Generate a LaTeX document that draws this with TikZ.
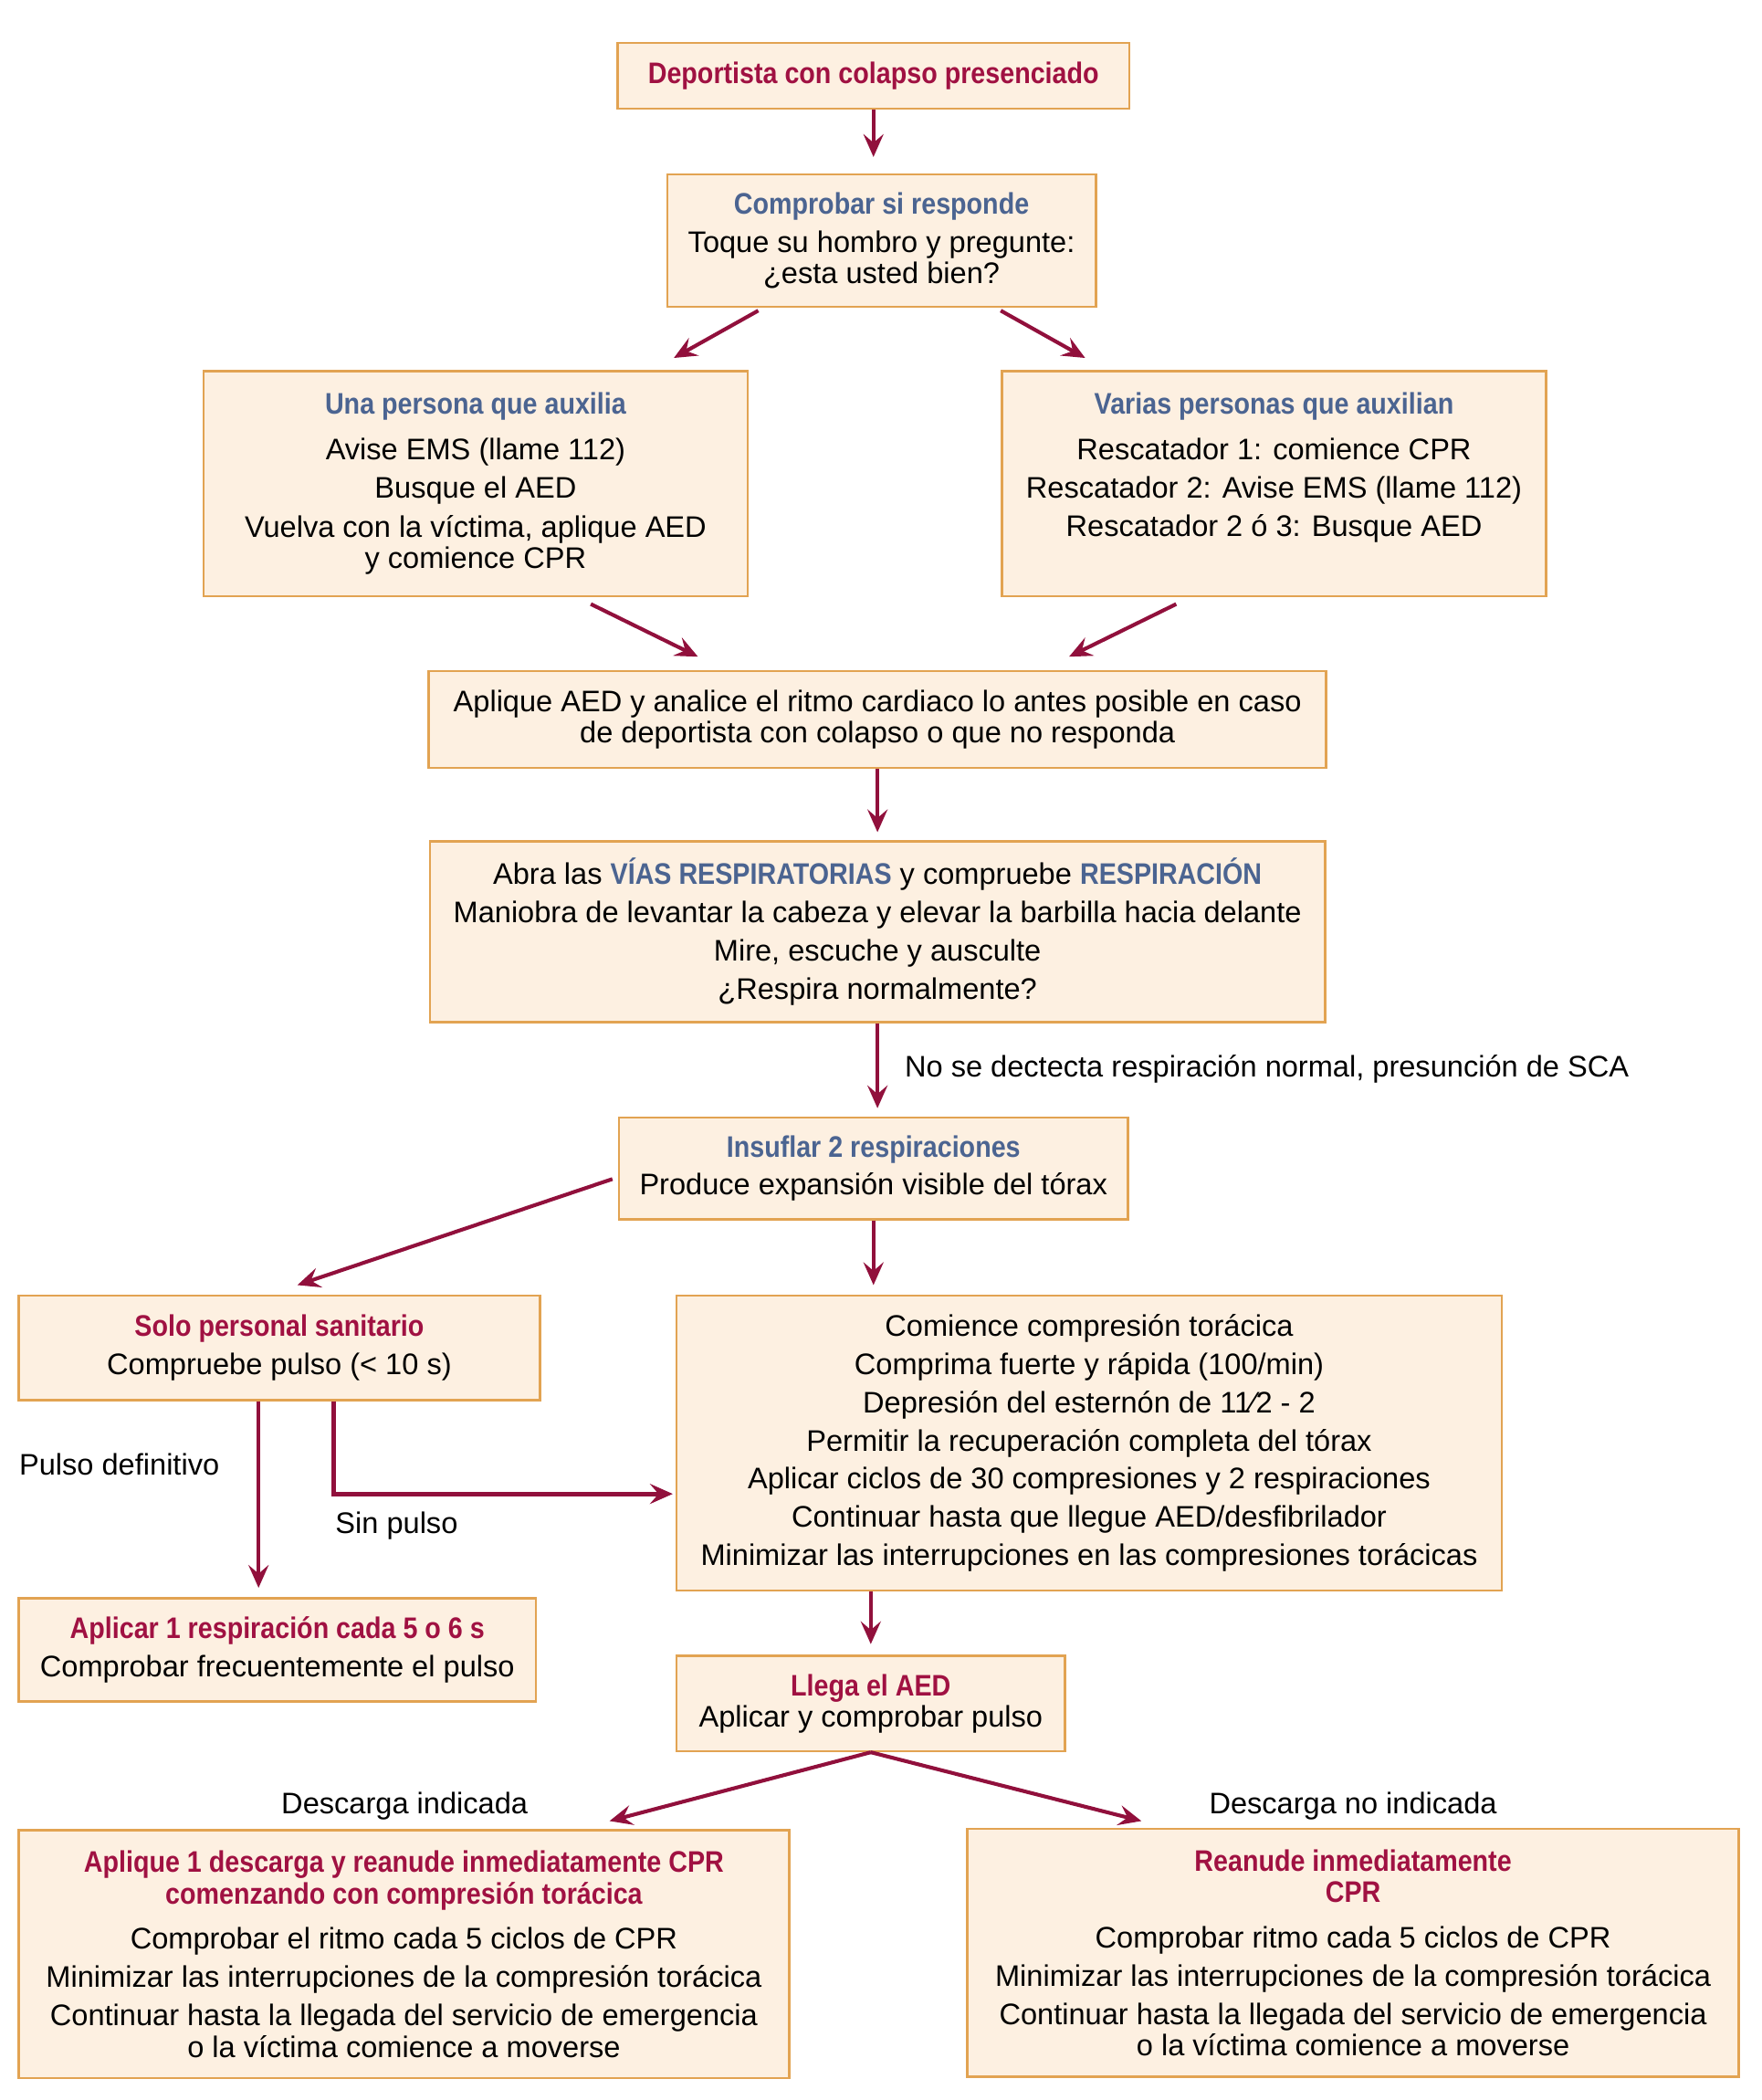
\documentclass[tikz,border=0pt]{standalone}
\usepackage{fontspec}
\setmainfont{Liberation Sans}
\newfontfamily\condbf{Liberation Sans}[FakeStretch=0.88]
\usetikzlibrary{arrows.meta,positioning,calc}
\definecolor{boxfill}{RGB}{253,240,225}
\definecolor{boxline}{RGB}{226,163,82}
\definecolor{arrred}{RGB}{145,16,60}
\definecolor{ttlred}{RGB}{160,17,66}
\definecolor{ttlblue}{RGB}{75,100,145}
\newcommand{\ttl}[1]{{\condbf\bfseries\color{ttlred}#1}}
\newcommand{\hdr}[1]{{\condbf\bfseries\color{ttlblue}#1}}
\tikzset{
    box/.style={draw=boxline, fill=boxfill, line width=0.85pt, align=center, inner sep=0pt},
    arr/.style={draw=arrred, line width=1.4pt, -{Stealth[length=8.5pt,width=7.5pt,inset=3.2pt]}},
    lbl/.style={inner sep=0pt},
}
\begin{document}
\begin{tikzpicture}[x=0.5pt, y=-0.5pt, font=\fontsize{11.1}{11.75}\selectfont]
            \useasboundingbox (0,0) rectangle (1314.6,1567.4);
            % boxes from top to bottom
            \node[box, minimum width=191pt, minimum height=24.5pt] (b1) at (652,56.5)
                {\ttl{Deportista con colapso presenciado}};
            \node[box, minimum width=160pt, minimum height=49.5pt] (b2) at (658,179.5)
                {\hdr{Comprobar si responde}\\[2.5pt] Toque su hombro y pregunte:\\ ¿esta usted bien?};
            \node[box, minimum width=203pt, minimum height=84pt] (b3l) at (355,361)
                {\hdr{Una persona que auxilia}\\[5.25pt] Avise EMS (llame 112)\\[2.5pt] Busque el AED\\[3pt]
                 Vuelva con la víctima, aplique AED\\ y comience CPR};
            \node[box, minimum width=203pt, minimum height=84pt] (b3r) at (951,361)
                {\hdr{Varias personas que auxilian}\\[5.25pt] Rescatador 1: comience CPR\\[2.5pt]
                 Rescatador 2: Avise EMS (llame 112)\\[2.5pt] Rescatador 2 ó 3: Busque AED\\[2.5pt] \mbox{}};
            \node[box, minimum width=335pt, minimum height=36pt] (b4) at (655,537)
                {Aplique AED y analice el ritmo cardiaco lo antes posible en caso\\ de deportista con colapso o que no responda};
            \node[box, minimum width=334pt, minimum height=67.5pt] (b5) at (655,695.5)
                {Abra las \hdr{VÍAS RESPIRATORIAS} y compruebe \hdr{RESPIRACIÓN}\\[2.5pt]
                 Maniobra de levantar la cabeza y elevar la barbilla hacia delante\\[2.5pt]
                 Mire, escuche y ausculte\\[2.5pt] ¿Respira normalmente?};
            \node[box, minimum width=190pt, minimum height=38pt] (b6) at (652,872)
                {\hdr{Insuflar 2 respiraciones}\\[2.5pt] Produce expansión visible del tórax};
            \node[box, minimum width=194.5pt, minimum height=39pt] (b7) at (208.5,1006)
                {\ttl{Solo personal sanitario}\\[2.5pt] Compruebe pulso (< 10 s)};
            \node[box, minimum width=308pt, minimum height=110pt] (b8) at (813,1077)
                {Comience compresión torácica\\[2.5pt] Comprima fuerte y rápida (100/min)\\[2.5pt]
                 Depresión del esternón de 11⁄2 - 2\\[2.5pt] Permitir la recuperación completa del tórax\\[2.5pt]
                 Aplicar ciclos de 30 compresiones y 2 respiraciones\\[2.5pt]
                 Continuar hasta que llegue AED/desfibrilador\\[2.5pt]
                 Minimizar las interrupciones en las compresiones torácicas};
            \node[box, minimum width=193pt, minimum height=38.5pt] (b9) at (207,1231.5)
                {\ttl{Aplicar 1 respiración cada 5 o 6 s}\\[2.5pt] Comprobar frecuentemente el pulso};
            \node[box, minimum width=145pt, minimum height=35.5pt] (b10) at (650,1271.5)
                {\ttl{Llega el AED}\\ Aplicar y comprobar pulso};
            \node[box, minimum width=287.5pt, minimum height=92.5pt] (b11) at (301.5,1458.5)
                {\ttl{Aplique 1 descarga y reanude inmediatamente CPR}\\ \ttl{comenzando con compresión torácica}\\[5.25pt]
                 Comprobar el ritmo cada 5 ciclos de CPR\\[2.5pt]
                 Minimizar las interrupciones de la compresión torácica\\[2.5pt]
                 Continuar hasta la llegada del servicio de emergencia\\ o la víctima comience a moverse};
            \node[box, minimum width=288pt, minimum height=92.5pt] (b12) at (1010,1457.5)
                {\ttl{Reanude inmediatamente}\\ \ttl{CPR}\\[5.25pt]
                 Comprobar ritmo cada 5 ciclos de CPR\\[2.5pt]
                 Minimizar las interrupciones de la compresión torácica\\[2.5pt]
                 Continuar hasta la llegada del servicio de emergencia\\ o la víctima comience a moverse};
            % labels beside the arrows
            \node[lbl, anchor=west] (nores) at (675,798) {No se dectecta respiración normal, presunción de SCA};
            \node[lbl, anchor=west] (pulso) at (14,1093) {Pulso definitivo};
            \node[lbl, anchor=west] (sinpulso) at (250,1139) {Sin pulso};
            \node[lbl] (desc) at (302,1348) {Descarga indicada};
            \node[lbl] (nodesc) at (1010,1348) {Descarga no indicada};
            % arrows between the boxes
            \draw[arr] (b1.south) -- ($(b1.south |- b2.north)+(0,-12)$);
            \draw[arr] ($(b2.south)+(-92,2)$) -- ($(b3l.north)+(148,-9)$);
            \draw[arr] ($(b2.south)+(89,2)$) -- ($(b3r.north)+(-141,-9)$);
            \draw[arr] ($(b3l.south)+(86,5)$) -- ($(b4.north)+(-134,-10)$);
            \draw[arr] ($(b3r.south)+(-73,5)$) -- ($(b4.north)+(143,-10)$);
            \draw[arr] (b4.south) -- ($(b4.south |- b5.north)+(0,-6)$);
            \draw[arr] (b5.south) -- ($(b5.south |- b6.north)+(0,-6)$);
            \draw[arr] ($(b6.west)+(-4,8)$) -- ($(b7.north)+(13.5,-7)$);
            \draw[arr] (b6.south) -- ($(b6.south |- b8.north)+(0,-7)$);
            \draw[arr] ($(b7.south)+(-15.5,0)$) -- ($(b9.north)+(-14,-7)$);
            \draw[arr, line width=1.8pt] ($(b7.south)+(40.5,0)$) |- ($(b8.west)+(-2,38)$);
            \draw[arr] (b10.north |- b8.south) -- ($(b10.north)+(0,-8)$);
            \draw[arr] (b10.south) -- ($(b11.north)+(153.5,-6)$);
            \draw[arr] (b10.south) -- ($(b12.north)+(-158,-5)$);
        \end{tikzpicture}
\end{document}
